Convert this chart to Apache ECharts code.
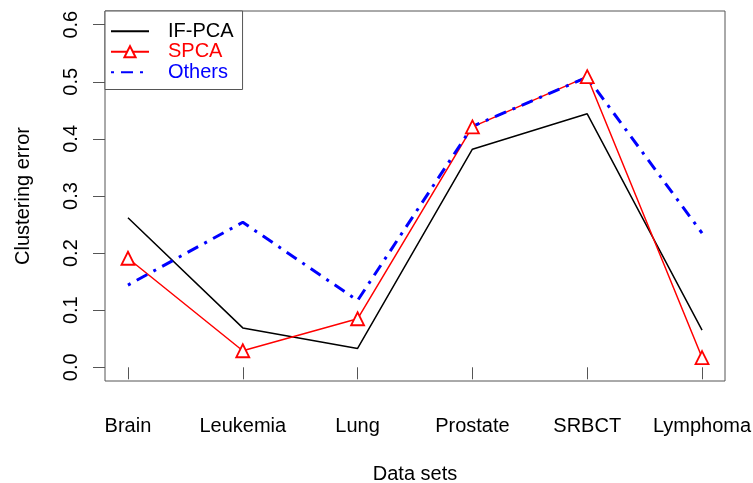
<!DOCTYPE html>
<html>
<head>
<meta charset="utf-8">
<script src="https://cdn.jsdelivr.net/npm/echarts@6/dist/echarts.min.js"></script>
<style>
html,body{margin:0;padding:0;background:#fff;}
#chart{width:753px;height:483px;}
</style>
</head>
<body>
<div id="chart"></div>
<script>
var categories = ['Brain', 'Leukemia', 'Lung', 'Prostate', 'SRBCT', 'Lymphoma'];
var ifpca = [0.262, 0.069, 0.033, 0.382, 0.444, 0.065];
var spca = [0.191, 0.029, 0.085, 0.421, 0.509, 0.017];
var others = [0.144, 0.254, 0.117, 0.422, 0.508, 0.235];
var yTicks = [0, 0.1, 0.2, 0.3, 0.4, 0.5, 0.6];
var xTicks = [1, 2, 3, 4, 5, 6];

function pairs(arr) { return arr.map(function (v, i) { return [i + 1, v]; }); }

var FONT = '"Liberation Sans", Arial, Helvetica, sans-serif';
var chart = echarts.init(document.getElementById('chart'), null, {renderer: 'canvas'});
chart.setOption({
  animation: false,
  backgroundColor: '#fff',
  textStyle: {fontFamily: FONT},
  grid: {left: 105, right: 28, top: 11, bottom: 102, show: true, borderColor: '#555', borderWidth: 1,
    backgroundColor: 'transparent', containLabel: false, outerBoundsMode: 'none'},
  xAxis: {
    type: 'value', min: 0.8, max: 6.2,
    axisLine: {show: false},
    splitLine: {show: false},
    axisTick: {show: true, inside: false, length: 12, customValues: xTicks, lineStyle: {color: '#555', width: 1}},
    axisLabel: {customValues: xTicks, margin: 35, fontSize: 20, color: '#000', fontFamily: FONT,
      formatter: function (v) { return categories[Math.round(v) - 1] || ''; }},
    name: 'Data sets', nameLocation: 'middle', nameGap: 83,
    nameTextStyle: {fontSize: 20, color: '#000', fontFamily: FONT}
  },
  yAxis: {
    type: 'value', min: -0.024, max: 0.624,
    axisLine: {show: false},
    splitLine: {show: false},
    axisTick: {show: true, inside: false, length: 12, customValues: yTicks, lineStyle: {color: '#555', width: 1}},
    axisLabel: {customValues: yTicks, rotate: 90, margin: 24, fontSize: 20, color: '#000', fontFamily: FONT,
      formatter: function (v) { return v.toFixed(1); }},
    name: 'Clustering error', nameLocation: 'middle', nameGap: 72, nameRotate: 90,
    nameTextStyle: {fontSize: 20, color: '#000', fontFamily: FONT}
  },
  legend: {
    orient: 'vertical', left: 105, top: 11,
    padding: [10, 9, 7, 5], itemGap: 0, itemWidth: 38, itemHeight: 14,
    borderColor: '#555', borderWidth: 1, backgroundColor: '#fff',
    textStyle: {fontSize: 20, fontFamily: FONT, padding: [0, 0, 0, 14], lineHeight: 20.5},
    data: [
      {name: 'IF-PCA', textStyle: {color: '#000'}, itemStyle: {color: 'rgba(0,0,0,0)', borderWidth: 0}},
      {name: 'SPCA', textStyle: {color: '#ff0000'}},
      {name: 'Others', textStyle: {color: '#0000ff'}, itemStyle: {color: 'rgba(0,0,0,0)', borderWidth: 0}}
    ]
  },
  series: [
    {name: 'IF-PCA', type: 'line', data: pairs(ifpca), symbol: 'none',
      lineStyle: {color: '#000', width: 1.5}, itemStyle: {color: '#000'}},
    {name: 'SPCA', type: 'line', data: pairs(spca), symbol: 'triangle', symbolSize: 13,
      lineStyle: {color: '#ff0000', width: 1.5},
      itemStyle: {color: '#fff', borderColor: '#ff0000', borderWidth: 1.8}},
    {name: 'Others', type: 'line', data: pairs(others), symbol: 'none',
      lineStyle: {color: '#0000ff', width: 3, type: [3, 7, 12, 7]}, itemStyle: {color: '#0000ff'}}
  ]
});
</script>
</body>
</html>
